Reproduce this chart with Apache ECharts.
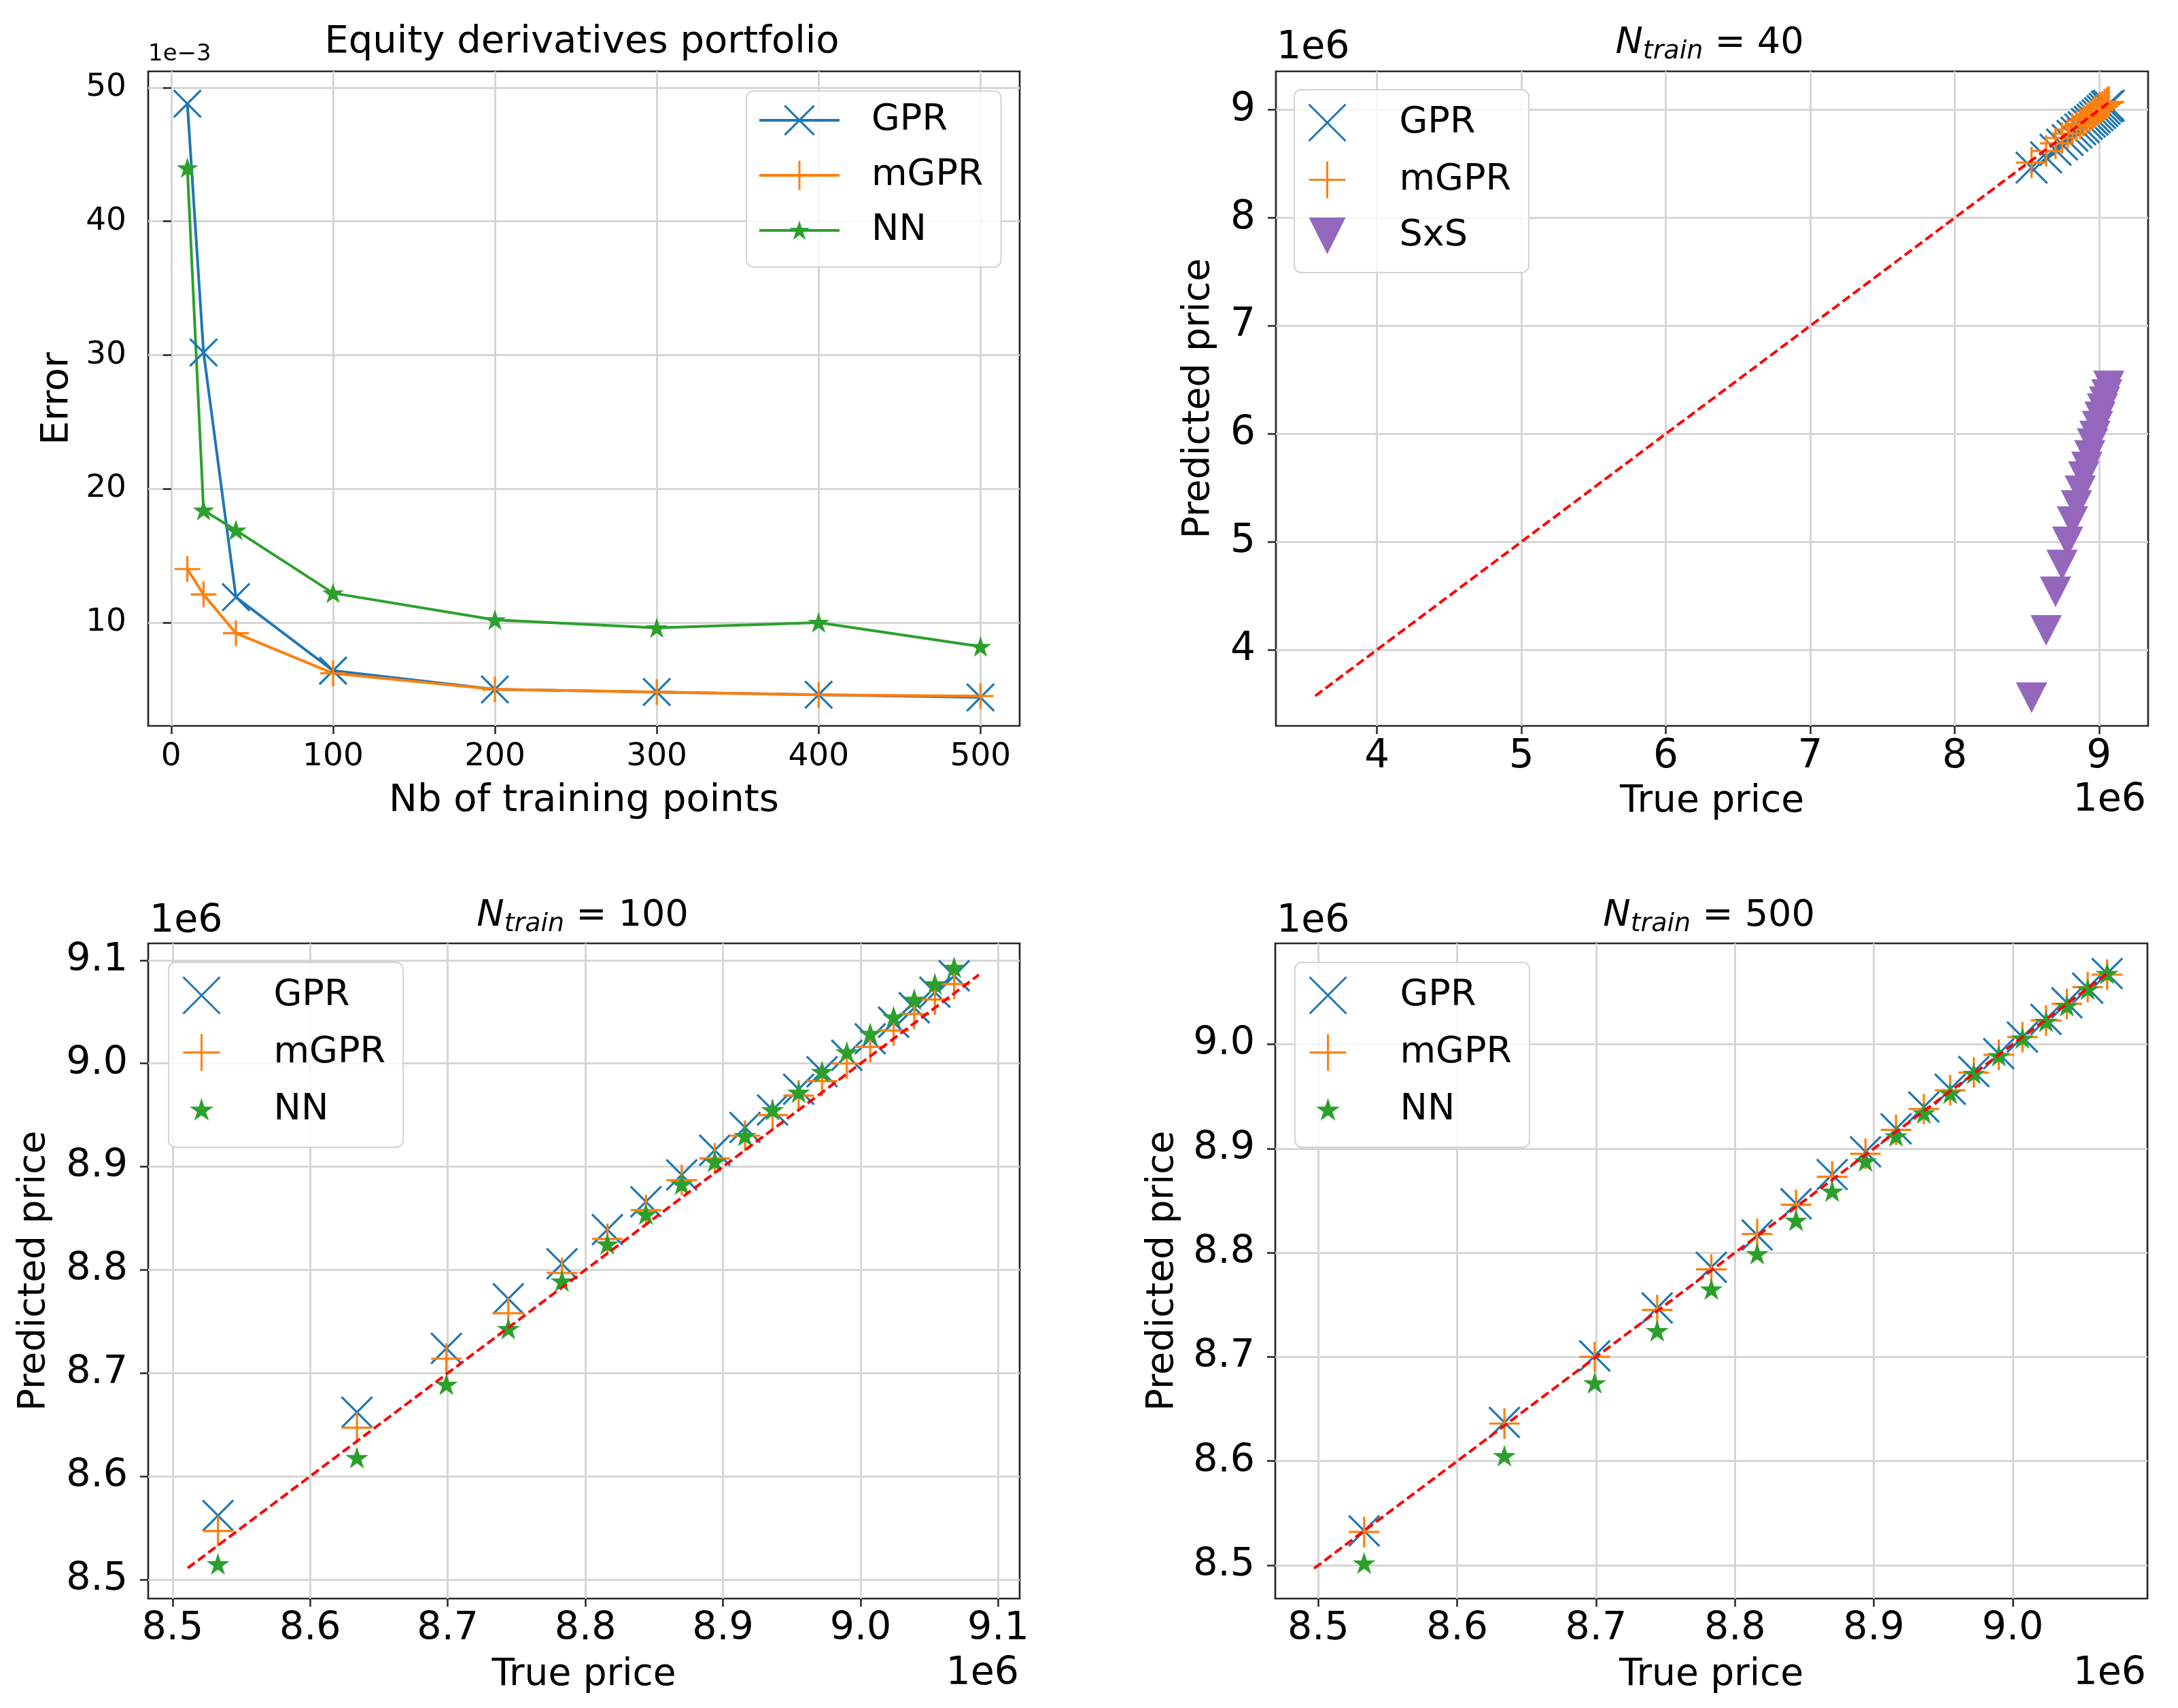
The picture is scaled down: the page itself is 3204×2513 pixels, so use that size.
<!DOCTYPE html>
<html><head><meta charset="utf-8">
<script src="https://cdn.jsdelivr.net/npm/echarts@6/dist/echarts.min.js"></script>
<style>html,body{margin:0;padding:0;background:#fff}#c{width:3204px;height:2513px}</style>
</head><body><div id="c"></div>
<script>
// ---------------- data ----------------
const trainSizes = [10, 20, 40, 100, 200, 300, 400, 500];
const errGPR  = [48.8, 30.2, 11.9, 6.4, 5.0, 4.8, 4.6, 4.4];
const errMGPR = [14.0, 12.1, 9.2, 6.2, 5.0, 4.8, 4.6, 4.5];
const errNN   = [44.0, 18.4, 16.9, 12.2, 10.2, 9.6, 10.0, 8.2];
const errXTicks = [0, 100, 200, 300, 400, 500];
const errYTicks = [10, 20, 30, 40, 50];

// true prices (units of 1e6), shared by the three scatter panels
const truePrice = [8.533, 8.634, 8.699, 8.744, 8.783, 8.816, 8.844, 8.870, 8.894, 8.916,
                   8.936, 8.955, 8.972, 8.990, 9.007, 9.024, 9.039, 9.054, 9.068];
// N_train = 40
const gpr40  = [8.465, 8.56, 8.63, 8.68, 8.72, 8.76, 8.79, 8.82, 8.84, 8.87,
                8.89, 8.91, 8.93, 8.95, 8.97, 8.99, 9.01, 9.03, 9.04];
const mgpr40 = [8.512, 8.62, 8.69, 8.74, 8.78, 8.82, 8.85, 8.87, 8.90, 8.92,
                8.94, 8.96, 8.98, 9.00, 9.02, 9.03, 9.05, 9.065, 9.075];
const sxs40  = [3.557, 4.18, 4.536, 4.785, 5.0, 5.187, 5.336, 5.473, 5.603, 5.693,
                5.80, 5.909, 5.979, 6.071, 6.158, 6.233, 6.298, 6.363, 6.444];
const diag40 = [3.572, 9.07];
const ticks40 = [4, 5, 6, 7, 8, 9];
// N_train = 100
const gpr100  = [8.562, 8.662, 8.724, 8.772, 8.806, 8.839, 8.866, 8.892, 8.916, 8.938,
                 8.955, 8.975, 8.992, 9.008, 9.024, 9.040, 9.054, 9.069, 9.085];
const mgpr100 = [8.547, 8.647, 8.714, 8.758, 8.797, 8.830, 8.858, 8.887, 8.908, 8.930,
                 8.950, 8.969, 8.983, 9.000, 9.016, 9.032, 9.048, 9.062, 9.077];
const nn100   = [8.515, 8.618, 8.689, 8.743, 8.789, 8.825, 8.854, 8.883, 8.905, 8.930,
                 8.955, 8.972, 8.992, 9.011, 9.029, 9.045, 9.062, 9.077, 9.093];
const diag100 = [8.511, 9.086];
const ticks100 = [8.5, 8.6, 8.7, 8.8, 8.9, 9.0, 9.1];
// N_train = 500
const gpr500  = [8.533, 8.637, 8.701, 8.747, 8.786, 8.817, 8.847, 8.875, 8.897, 8.919,
                 8.940, 8.957, 8.974, 8.991, 9.007, 9.024, 9.040, 9.054, 9.068];
const mgpr500 = [8.532, 8.636, 8.700, 8.745, 8.784, 8.818, 8.846, 8.873, 8.895, 8.918,
                 8.938, 8.956, 8.973, 8.990, 9.007, 9.023, 9.039, 9.055, 9.067];
const nn500   = [8.502, 8.605, 8.675, 8.725, 8.765, 8.799, 8.831, 8.859, 8.888, 8.912,
                 8.934, 8.953, 8.972, 8.989, 9.006, 9.022, 9.037, 9.053, 9.068];
const diag500 = [8.497, 9.070];
const ticks500 = [8.5, 8.6, 8.7, 8.8, 8.9, 9.0];

// ---------------- style ----------------
const BLUE = '#1f77b4', ORANGE = '#ff7f0e', GREEN = '#2ca02c', PURPLE = '#9467bd', RED = '#ff0000';
const FONT = 'DejaVu Sans';
const FRAME = '#262626', GRID = '#d6d6d6';
const X_SYM = 'path://M0,0L10,10M10,0L0,10';
const PLUS_SYM = 'path://M5,0L5,10M0,5L10,5';
const STAR_PAD = 'path://M-50,-55M150,145M50,0L61.2,34.6L97.6,34.5L68.1,55.9L79.4,90.5L50,69L20.6,90.5L31.9,55.9L2.4,34.5L38.8,34.6Z';
const TRI_SYM = 'path://M0,0L10,0L5,10Z';

const zip = (a, b) => a.map((v, i) => [v, b[i]]);

const grids = [
  {left: 218, top: 105, width: 1282, height: 963},
  {left: 1877, top: 105, width: 1283, height: 963},
  {left: 218, top: 1388, width: 1282, height: 964},
  {left: 1876, top: 1388, width: 1283, height: 964}
].map(g => Object.assign(g, {show: true, borderColor: FRAME, borderWidth: 2.7, backgroundColor: 'transparent', containLabel: false}));

function axis(o) {
  return {
    type: 'value', gridIndex: o.grid, min: o.min, max: o.max,
    splitNumber: o.split, minInterval: o.step, maxInterval: o.step,
    axisLine: {show: false},
    axisTick: {show: true, length: 12, customValues: o.ticks, lineStyle: {color: FRAME, width: 2.5}},
    axisLabel: {show: true, customValues: o.ticks, fontSize: o.fs, fontFamily: FONT, color: '#000', margin: o.margin,
                showMinLabel: true, showMaxLabel: true, hideOverlap: false, formatter: o.fmt},
    splitLine: {show: true, lineStyle: {color: GRID, width: 3}},
    name: o.name, nameLocation: 'middle', nameGap: o.gap, nameRotate: o.rot,
    nameTextStyle: {fontSize: o.nfs, fontFamily: FONT, color: '#000'}
  };
}
const f0 = v => String(Math.round(v));
const f1 = v => v.toFixed(1);

const xAxis = [
  axis({grid: 0, min: -14.2, max: 524.2, split: 5, step: 100, ticks: errXTicks, fs: 47, margin: 22, fmt: f0,
        name: 'Nb of training points', gap: 82, nfs: 56}),
  axis({grid: 1, min: 3.30, max: 9.34, split: 6, step: 1, ticks: ticks40, fs: 58, margin: 17, fmt: f0,
        name: 'True price', gap: 84, nfs: 55}),
  axis({grid: 2, min: 8.4823, max: 9.1156, split: 6, step: 0.1, ticks: ticks100, fs: 57, margin: 17, fmt: f1,
        name: 'True price', gap: 85, nfs: 55}),
  axis({grid: 3, min: 8.469, max: 9.097, split: 6, step: 0.1, ticks: ticks500, fs: 57, margin: 17, fmt: f1,
        name: 'True price', gap: 85, nfs: 55})
];
const yAxis = [
  axis({grid: 0, min: 2.27, max: 51.22, split: 5, step: 10, ticks: errYTicks, fs: 47, margin: 32, fmt: f0,
        name: 'Error', gap: 106, nfs: 56, rot: 90}),
  axis({grid: 1, min: 3.295, max: 9.357, split: 6, step: 1, ticks: ticks40, fs: 58, margin: 30, fmt: f0,
        name: 'Predicted price', gap: 86, nfs: 55, rot: 90}),
  axis({grid: 2, min: 8.4815, max: 9.1164, split: 6, step: 0.1, ticks: ticks100, fs: 57, margin: 30, fmt: f1,
        name: 'Predicted price', gap: 140, nfs: 55, rot: 90}),
  axis({grid: 3, min: 8.468, max: 9.097, split: 6, step: 0.1, ticks: ticks500, fs: 57, margin: 30, fmt: f1,
        name: 'Predicted price', gap: 138, nfs: 55, rot: 90})
];

const hollow = c => ({color: 'rgba(0,0,0,0)', borderColor: c, borderWidth: 3.2, opacity: 1});

const series = [];
// panel 0: error curves
series.push(
  {type: 'line', name: 'GPR#0', xAxisIndex: 0, yAxisIndex: 0, data: zip(trainSizes, errGPR),
   symbol: X_SYM, symbolSize: 40, lineStyle: {color: BLUE, width: 4}, itemStyle: hollow(BLUE)},
  {type: 'line', name: 'mGPR#0', xAxisIndex: 0, yAxisIndex: 0, data: zip(trainSizes, errMGPR),
   symbol: PLUS_SYM, symbolSize: 38, lineStyle: {color: ORANGE, width: 4}, itemStyle: hollow(ORANGE)},
  {type: 'line', name: 'NN#0', xAxisIndex: 0, yAxisIndex: 0, data: zip(trainSizes, errNN),
   symbol: STAR_PAD, symbolSize: 54, symbolKeepAspect: true, lineStyle: {color: GREEN, width: 4},
   itemStyle: {color: GREEN, borderColor: GREEN, borderWidth: 2, opacity: 1}}
);
function diagSeries(idx, d) {
  return {type: 'line', name: 'diag#' + idx, xAxisIndex: idx, yAxisIndex: idx, z: 5,
          data: [[d[0], d[0]], [d[1], d[1]]], symbol: 'none',
          lineStyle: {color: RED, width: 4, type: [13, 6]}};
}
// panel 1
series.push(
  {type: 'scatter', name: 'GPR#1', xAxisIndex: 1, yAxisIndex: 1, data: zip(truePrice, gpr40),
   symbol: X_SYM, symbolSize: 46, itemStyle: hollow(BLUE)},
  {type: 'scatter', name: 'mGPR#1', xAxisIndex: 1, yAxisIndex: 1, data: zip(truePrice, mgpr40),
   symbol: PLUS_SYM, symbolSize: 46, itemStyle: hollow(ORANGE)},
  {type: 'scatter', name: 'SxS#1', xAxisIndex: 1, yAxisIndex: 1, data: zip(truePrice, sxs40),
   symbol: TRI_SYM, symbolSize: [46, 45], itemStyle: {color: PURPLE, opacity: 1}},
  diagSeries(1, diag40)
);
// panels 2 & 3
[[2, gpr100, mgpr100, nn100, diag100], [3, gpr500, mgpr500, nn500, diag500]].forEach(([i, g, m, n, d]) => {
  series.push(
    {type: 'scatter', name: 'GPR#' + i, xAxisIndex: i, yAxisIndex: i, data: zip(truePrice, g),
     symbol: X_SYM, symbolSize: 45, itemStyle: hollow(BLUE)},
    {type: 'scatter', name: 'mGPR#' + i, xAxisIndex: i, yAxisIndex: i, data: zip(truePrice, m),
     symbol: PLUS_SYM, symbolSize: 45, itemStyle: hollow(ORANGE)},
    {type: 'scatter', name: 'NN#' + i, xAxisIndex: i, yAxisIndex: i, data: zip(truePrice, n),
     symbol: STAR_PAD, symbolSize: 58, symbolKeepAspect: true,
     itemStyle: {color: GREEN, borderColor: GREEN, borderWidth: 2, opacity: 1}},
    diagSeries(i, d)
  );
});
series.forEach(s => { s.silent = true; s.animation = false; s.emphasis = {disabled: true}; });

function legend(names, left, top, itemH, gap, pad) {
  return {
    data: names, orient: 'vertical', left: left, top: top, selectedMode: false,
    itemWidth: 118, itemHeight: itemH, itemGap: gap, padding: pad,
    backgroundColor: 'rgba(255,255,255,0.8)', borderColor: '#d4d4d4', borderWidth: 2, borderRadius: 10,
    itemStyle: {borderWidth: 3},
    lineStyle: {width: 4},
    formatter: n => n.split('#')[0],
    textStyle: {fontSize: 54, fontFamily: FONT, color: '#000', lineHeight: 54, padding: [0, 0, 0, 42]}
  };
}
const legends = [
  legend(['GPR#0', 'mGPR#0', 'NN#0'], 1098, 134, 54, 27, [16, 26, 27, 17]),
  legend(['GPR#1', 'mGPR#1', 'SxS#1'], 1904, 132, 54, 27, [20, 26, 27, 20]),
  legend(['GPR#2', 'mGPR#2', 'NN#2'], 248, 1416, 54, 27, [20, 26, 27, 20]),
  legend(['GPR#3', 'mGPR#3', 'NN#3'], 1905, 1416, 54, 27, [20, 26, 27, 20])
];

function txt(x, y, text, size, align, extra) {
  return {type: 'text', x: x, y: y, silent: true, z: 10,
          style: Object.assign({text: text, fontSize: size, fontFamily: FONT, fill: '#000',
                               textAlign: align, textVerticalAlign: 'middle'}, extra || {})};
}
function ntrain(x, y, n) {
  return txt(x, y, '{i|N}{s|train}{r| = ' + n + '}', 54, 'center', {
    rich: {
      i: {fontSize: 54, fontStyle: 'italic', fontFamily: FONT, lineHeight: 62, verticalAlign: 'middle'},
      s: {fontSize: 38, fontStyle: 'italic', fontFamily: FONT, lineHeight: 32, verticalAlign: 'bottom'},
      r: {fontSize: 54, fontFamily: FONT, lineHeight: 62, verticalAlign: 'middle'}
    }
  });
}
const graphic = [
  txt(856, 62, 'Equity derivatives portfolio', 56, 'center'),
  txt(218, 80, '1e\u22123', 34, 'left'),
  ntrain(2515, 64, 40),
  txt(1878, 71, '1e6', 57, 'left'),
  txt(3157, 1178, '1e6', 57, 'right'),
  ntrain(857, 1348, 100),
  txt(220, 1356, '1e6', 57, 'left'),
  txt(1499, 2463, '1e6', 57, 'right'),
  ntrain(2514, 1348, 500),
  txt(1878, 1356, '1e6', 57, 'left'),
  txt(3157, 2463, '1e6', 57, 'right')
];

const chart = echarts.init(document.getElementById('c'), null, {renderer: 'canvas'});
chart.setOption({
  animation: false,
  backgroundColor: '#ffffff',
  textStyle: {fontFamily: FONT},
  grid: grids, xAxis: xAxis, yAxis: yAxis, series: series, legend: legends, graphic: graphic
});
</script>
</body></html>
